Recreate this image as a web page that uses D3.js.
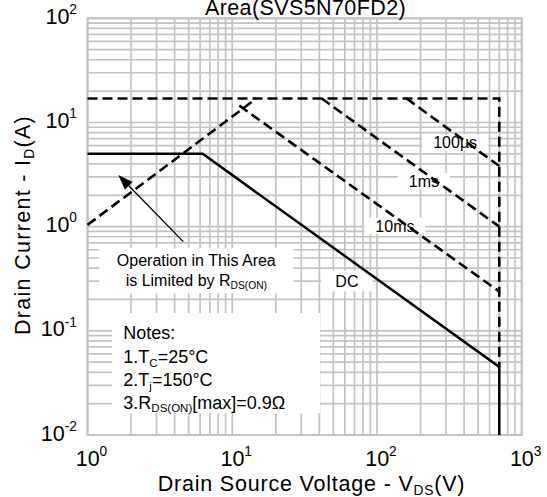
<!DOCTYPE html>
<html>
<head>
<meta charset="utf-8">
<script src="https://cdn.jsdelivr.net/npm/d3@7"></script>
<style>
  body { margin: 0; background: #fff; }
  svg { display: block; }
  text { font-family: "Liberation Sans", Arial, sans-serif; fill: #000; }
</style>
</head>
<body>
<svg id="chart" width="547" height="497"></svg>
<script>
// Safe operating area boundaries: V_DS in volts, I_D in amps
const dcVds = [1, 6.25, 700, 700];
const dcId = [5, 5, 0.045, 0.01];
const rdsVds = [1, 14.7];
const rdsId = [1.04, 17];
const limitVds = [1, 700, 700];
const limitId = [17, 17, 0.045];
const us100Vds = [160, 700];
const us100Id = [17, 3.82];
const ms1Vds = [41.5, 700];
const ms1Id = [17, 1.0];
const ms10Vds = [11.2, 700];
const ms10Id = [14.5, 0.238];

// Decade tick exponents
const xTickExp = [0, 1, 2, 3];
const yTickExp = [-2, -1, 0, 1, 2];

// Curve names and the point (V, A) each name sits on
const curveNames = ["100µs", "1ms", "10ms", "DC"];
const curveNameVds = [347, 211, 133, 62];
const curveNameId = [6.4, 2.75, 1.02, 0.30];

const svg = d3.select("#chart");
const m = { left: 87.5, right: 521.7, top: 18.3, bottom: 435 };
const x = d3.scaleLog().domain([1, 1000]).range([m.left, m.right]);
const y = d3.scaleLog().domain([0.01, 100]).range([m.bottom, m.top]);

const gridColor = "#c3c3c3";

// Rich text helper: parts [{t, sub, sup}]
function rich(sel, parts, size) {
  let shift = 0;
  parts.forEach(p => {
    let target = 0, fs = size;
    if (p.sub) { target = size * 0.2; fs = size * 0.64; }
    if (p.sup) { target = -size * 0.45; fs = size * 0.64; }
    sel.append("tspan")
      .attr("dy", target - shift)
      .attr("font-size", fs)
      .text(p.t);
    shift = target;
  });
}

// Grid
const grid = svg.append("g").attr("stroke", gridColor).attr("stroke-width", 1.7);
grid.selectAll("line.gx").data(x.ticks()).join("line")
  .attr("class", "gx")
  .attr("x1", d => x(d)).attr("x2", d => x(d))
  .attr("y1", m.top).attr("y2", m.bottom);
grid.selectAll("line.gy").data(y.ticks()).join("line")
  .attr("class", "gy")
  .attr("y1", d => y(d)).attr("y2", d => y(d))
  .attr("x1", m.left).attr("x2", m.right);
svg.append("rect")
  .attr("x", m.left).attr("y", m.top)
  .attr("width", m.right - m.left).attr("height", m.bottom - m.top)
  .attr("fill", "none").attr("stroke", gridColor).attr("stroke-width", 2);

// Axes (labels only, decade ticks)
const xAxis = svg.append("g")
  .attr("transform", `translate(0,${m.bottom})`)
  .call(d3.axisBottom(x).tickValues(xTickExp.map(e => Math.pow(10, e))).tickSize(0).tickFormat(""));
xAxis.select(".domain").remove();
xAxis.selectAll(".tick text").each(function (d) {
  const t = d3.select(this).attr("y", 30.5).attr("dy", null)
    .attr("text-anchor", "start").attr("x", -12.3).attr("font-size", 21.5);
  rich(t, [{ t: "10" }, { t: String(Math.round(Math.log10(d))), sup: true }], 21.5);
});

const yAxis = svg.append("g")
  .attr("transform", `translate(${m.left},0)`)
  .call(d3.axisLeft(y).tickValues(yTickExp.map(e => Math.pow(10, e))).tickSize(0).tickFormat(""));
yAxis.select(".domain").remove();
yAxis.selectAll(".tick text").each(function (d) {
  const t = d3.select(this).attr("x", -10.5).attr("dy", null).attr("y", 5)
    .attr("text-anchor", "end").attr("font-size", 21.5);
  rich(t, [{ t: "10" }, { t: String(Math.round(Math.log10(d))), sup: true }], 21.5);
});

// Title
svg.append("text")
  .attr("x", 305.5).attr("y", 14.5)
  .attr("text-anchor", "middle").attr("font-size", 21.5)
  .attr("letter-spacing", 0.4)
  .text("Area(SVS5N70FD2)");

// Axis titles
const xt = svg.append("text")
  .attr("x", 311.5).attr("y", 490.5)
  .attr("text-anchor", "middle").attr("font-size", 21.5).attr("letter-spacing", 0.8);
rich(xt, [{ t: "Drain Source Voltage - V" }, { t: "DS", sub: true }, { t: "(V)" }], 21.5);

const yt = svg.append("text")
  .attr("transform", "translate(30,225) rotate(-90)")
  .attr("text-anchor", "middle").attr("font-size", 21.5).attr("letter-spacing", 1.3);
rich(yt, [{ t: "Drain Current - I" }, { t: "D", sub: true }, { t: "(A)" }], 21.5);

// Curve name boxes and labels
curveNames.forEach((name, k) => {
  const cx = x(curveNameVds[k]), cy = y(curveNameId[k]);
  const t = svg.append("text")
    .attr("x", cx).attr("y", cy + 5.8)
    .attr("text-anchor", "middle").attr("font-size", 16)
    .text(name);
  const bb = t.node().getBBox();
  const padX = name === "DC" ? 14 : 11;
  const h = name === "DC" ? 20.5 : 16;
  svg.insert("rect", () => t.node())
    .attr("x", bb.x - padX).attr("y", cy - h / 2)
    .attr("width", bb.width + 2 * padX).attr("height", h)
    .attr("fill", "#fff");
});

// Annotation box
const ann = { x: 99.3, y: 248.3, w: 194, h: 45 };
svg.append("rect")
  .attr("x", ann.x).attr("y", ann.y).attr("width", ann.w).attr("height", ann.h)
  .attr("fill", "#fff");
svg.append("text")
  .attr("x", ann.x + ann.w / 2).attr("y", 265.5)
  .attr("text-anchor", "middle").attr("font-size", 16)
  .text("Operation in This Area");
const ann2 = svg.append("text")
  .attr("x", ann.x + ann.w / 2).attr("y", 286)
  .attr("text-anchor", "middle").attr("font-size", 16);
rich(ann2, [{ t: "is Limited by R" }, { t: "DS(ON)", sub: true }], 16);

// Notes box
const notes = { x: 112, y: 313, w: 208, h: 100 };
svg.append("rect")
  .attr("x", notes.x).attr("y", notes.y).attr("width", notes.w).attr("height", notes.h)
  .attr("fill", "#fff");
const noteLines = [
  [{ t: "Notes:" }],
  [{ t: "1.T" }, { t: "C", sub: true }, { t: "=25°C" }],
  [{ t: "2.T" }, { t: "j", sub: true }, { t: "=150°C" }],
  [{ t: "3.R" }, { t: "DS(ON)", sub: true }, { t: "[max]=0.9Ω" }]
];
const noteBase = [339, 363, 386, 408.5];
noteLines.forEach((parts, k) => {
  const t = svg.append("text")
    .attr("x", 123.3).attr("y", noteBase[k]).attr("font-size", 18);
  rich(t, parts, 18);
});

// Curves
const line = d3.line().x(d => x(d[0])).y(d => y(d[1]));
const zip = (a, b) => a.map((v, i) => [v, b[i]]);
const dashed = [
  zip(limitVds, limitId),
  zip(rdsVds, rdsId),
  zip(us100Vds, us100Id),
  zip(ms1Vds, ms1Id),
  zip(ms10Vds, ms10Id)
];
svg.append("g").selectAll("path").data(dashed).join("path")
  .attr("d", line)
  .attr("fill", "none").attr("stroke", "#000")
  .attr("stroke-width", 2.6).attr("stroke-dasharray", "10,5");
svg.append("path")
  .attr("d", line(zip(dcVds, dcId)))
  .attr("fill", "none").attr("stroke", "#000").attr("stroke-width", 2.5);

// Arrow pointing into the R_DS(ON)-limited region
const tail = [x(4.59), y(0.718)], tip = [x(1.633), y(3.13)];
const ang = Math.atan2(tip[1] - tail[1], tip[0] - tail[0]);
const hl = 15, hw = 5.5;
const base = [tip[0] - hl * Math.cos(ang), tip[1] - hl * Math.sin(ang)];
svg.append("line")
  .attr("x1", tail[0]).attr("y1", tail[1]).attr("x2", base[0]).attr("y2", base[1])
  .attr("stroke", "#000").attr("stroke-width", 1.3);
svg.append("path")
  .attr("d", `M${tip[0]},${tip[1]}L${base[0] + hw * Math.sin(ang)},${base[1] - hw * Math.cos(ang)}L${base[0] - hw * Math.sin(ang)},${base[1] + hw * Math.cos(ang)}Z`)
  .attr("fill", "#000");
</script>
</body>
</html>
